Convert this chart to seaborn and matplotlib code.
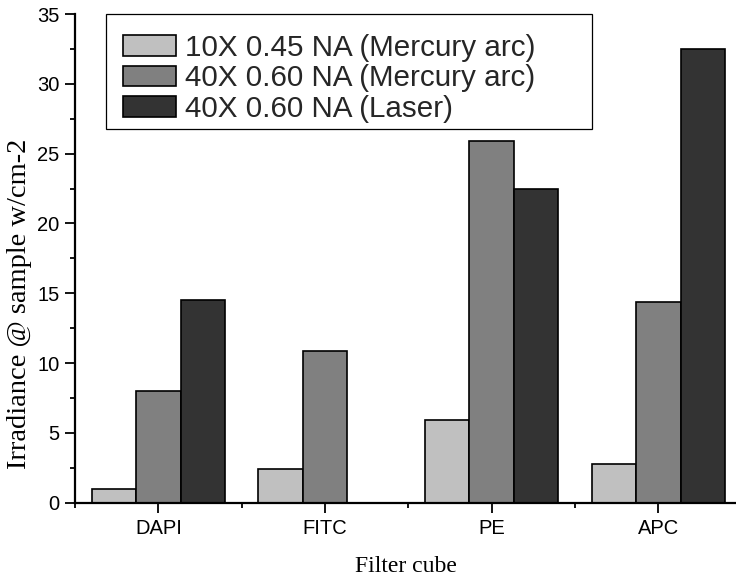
import numpy as np
import pandas as pd
import seaborn as sns
import matplotlib
matplotlib.use("Agg")
import matplotlib.pyplot as plt
from matplotlib.patches import Rectangle
from matplotlib.ticker import MultipleLocator, FixedLocator

cubes = ["DAPI", "FITC", "PE", "APC"]
series = ["10X 0.45 NA (Mercury arc)", "40X 0.60 NA (Mercury arc)", "40X 0.60 NA (Laser)"]
obj10x_mercury = [1.0, 2.4, 5.9, 2.8]
obj40x_mercury = [8.0, 10.85, 25.9, 14.4]
obj40x_laser = [14.5, np.nan, 22.5, 32.5]
colors = ["#c0c0c0", "#808080", "#333333"]

rows = []
for s, vals in zip(series, [obj10x_mercury, obj40x_mercury, obj40x_laser]):
    for c, v in zip(cubes, vals):
        rows.append({"cube": c, "series": s, "value": v})
df = pd.DataFrame(rows)

sns.set_style("ticks")
plt.rcParams["font.family"] = ["Liberation Sans", "DejaVu Sans"]

fig = plt.figure(figsize=(7.36, 5.80), dpi=100)
W, H = 736, 580
ax_l, ax_r, ax_t, ax_b = 75, 736, 14, 502.7
ax = fig.add_axes([ax_l / W, (H - ax_b) / H, (ax_r - ax_l) / W, (ax_b - ax_t) / H])

sns.barplot(data=df, x="cube", y="value", hue="series", order=cubes, hue_order=series,
            palette=colors, edgecolor="black", linewidth=1.2, width=0.8,
            errorbar=None, ax=ax, legend=True, saturation=1)

ax.set_xlim(-0.5, 3.466)
ax.set_ylim(0, 35)
ax.yaxis.set_major_locator(MultipleLocator(5))
ax.yaxis.set_minor_locator(MultipleLocator(2.5))
ax.xaxis.set_minor_locator(FixedLocator([-0.5, 0.5, 1.5, 2.5]))

for s in ["top", "right"]:
    ax.spines[s].set_visible(False)
for s in ["left", "bottom"]:
    ax.spines[s].set_linewidth(1.6)
    ax.spines[s].set_color("black")

ax.tick_params(axis="both", which="major", length=7.5, width=1.3, color="black",
               labelsize=14.5, labelcolor="black", direction="out")
ax.tick_params(axis="both", which="minor", length=3.8, width=1.3, color="black", direction="out")
ax.tick_params(axis="y", which="major", pad=3.5)
ax.tick_params(axis="x", which="major", pad=4.5)

ax.set_xlabel("Filter cube", fontfamily="Liberation Serif", fontsize=17, labelpad=13, color="black")
ax.set_ylabel("Irradiance @ sample w/cm-2", fontfamily="Liberation Serif", fontsize=20.5, color="black")
ax.yaxis.set_label_coords((32 - ax_l) / (ax_r - ax_l), (ax_b - 304) / (ax_b - ax_t))

handles, labels = ax.get_legend_handles_labels()
if ax.get_legend() is not None:
    ax.get_legend().remove()
leg_fs = 21.3
leg = ax.legend(handles, labels, loc="upper left",
                bbox_to_anchor=((123 - ax_l) / (ax_r - ax_l), (ax_b - 34) / (ax_b - ax_t)),
                frameon=False, fontsize=leg_fs, handlelength=1.79, handleheight=0.68,
                handletextpad=0.30, labelspacing=0.08, borderpad=0, borderaxespad=0)
for h in leg.legend_handles:
    h.set_edgecolor("black")
    h.set_linewidth(1.2)

rect = Rectangle(((106 - ax_l) / (ax_r - ax_l), (ax_b - 129) / (ax_b - ax_t)),
                 (592 - 106) / (ax_r - ax_l), (129 - 14) / (ax_b - ax_t),
                 transform=ax.transAxes, fill=False, edgecolor="black", linewidth=0.9,
                 clip_on=False, zorder=5)
ax.add_patch(rect)

fig.savefig("out.png", dpi=100)
